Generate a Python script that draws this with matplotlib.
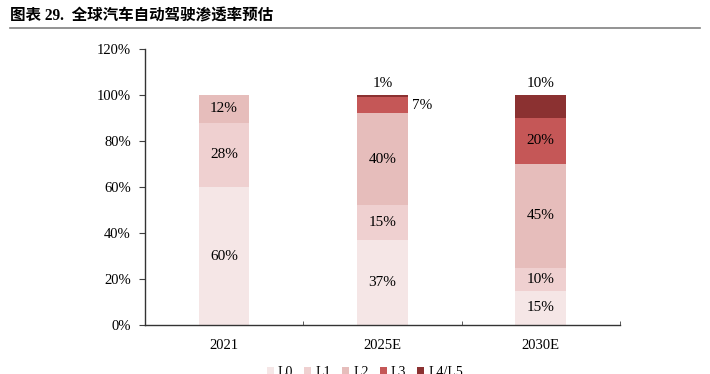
import numpy as np
import matplotlib
matplotlib.use('Agg')
import matplotlib.pyplot as plt
from matplotlib.ticker import FixedLocator, PercentFormatter

# data
years = ['2021', '2025E', '2030E']
levels = ['L0', 'L1', 'L2', 'L3', 'L4/L5']
L0 = [60, 37, 15]
L1 = [28, 15, 10]
L2 = [12, 40, 45]
L3 = [0, 7, 20]
L45 = [0, 1, 10]
colors = ['#F5E6E6', '#EFD0D0', '#E6BDBB', '#C55757', '#8B3131']

plt.rcParams['font.family'] = ['Liberation Serif', 'Noto Sans CJK SC']

fig = plt.figure(figsize=(7.1, 3.74), dpi=100)
ax = fig.add_axes([0.204, 0.131, 0.669, 0.738])

x = np.arange(len(years))
series = [L0, L1, L2, L3, L45]
bottom = np.zeros(len(years))
bars = []
fs = 11
for vals, c, name in zip(series, colors, levels):
    b = ax.bar(x, vals, 0.32, bottom=bottom, color=c, label=name, zorder=2)
    bars.append(b)
    for i, v in enumerate(vals):
        if v == 0:
            continue
        yc = bottom[i] + v / 2
        if v <= 1:
            # tiny slice: label above the bar
            ax.text(x[i], bottom[i] + v + 2, f'{v}%', ha='center', va='bottom', fontsize=fs)
        elif v < 8:
            ax.text(x[i] + 0.25, yc, f'{v}%', ha='center', va='center', fontsize=fs)
        elif name == 'L4/L5':
            ax.text(x[i], bottom[i] + v + 2, f'{v}%', ha='center', va='bottom', fontsize=fs)
        else:
            ax.text(x[i], yc, f'{v}%', ha='center', va='center', fontsize=fs)
    bottom += np.array(vals)

ax.set_xlim(-0.5, 2.5)
ax.set_ylim(0, 120)
ax.set_yticks(range(0, 121, 20))
ax.yaxis.set_major_formatter(PercentFormatter(decimals=0))
ax.set_xticks(x)
ax.set_xticklabels(years)
ax.xaxis.set_minor_locator(FixedLocator([-0.5, 0.5, 1.5, 2.5]))
ax.tick_params(axis='x', which='major', length=0, pad=10, labelsize=10.5)
ax.tick_params(axis='x', which='minor', direction='in', length=3, color='#404040')
ax.tick_params(axis='y', direction='out', length=4, color='#404040', labelsize=10.5, pad=6)
for s in ['top', 'right']:
    ax.spines[s].set_visible(False)
for s in ['left', 'bottom']:
    ax.spines[s].set_color('#333333')
    ax.spines[s].set_linewidth(1.0)

# title with rule underneath
fig.text(0.014, 0.955, '图表 29.  全球汽车自动驾驶渗透率预估', fontsize=11.2,
         fontweight='bold', ha='left', va='center')
fig.add_artist(plt.Line2D([0.014, 0.986], [0.925, 0.925], color='#808080', lw=1.2))

fig.legend(handles=bars, labels=levels, loc='center', bbox_to_anchor=(0.514, 0.004),
           ncol=5, frameon=False, fontsize=10, handlelength=0.5, handleheight=0.5,
           handletextpad=0.3, columnspacing=0.8)

fig.savefig('out.png', dpi=100)
